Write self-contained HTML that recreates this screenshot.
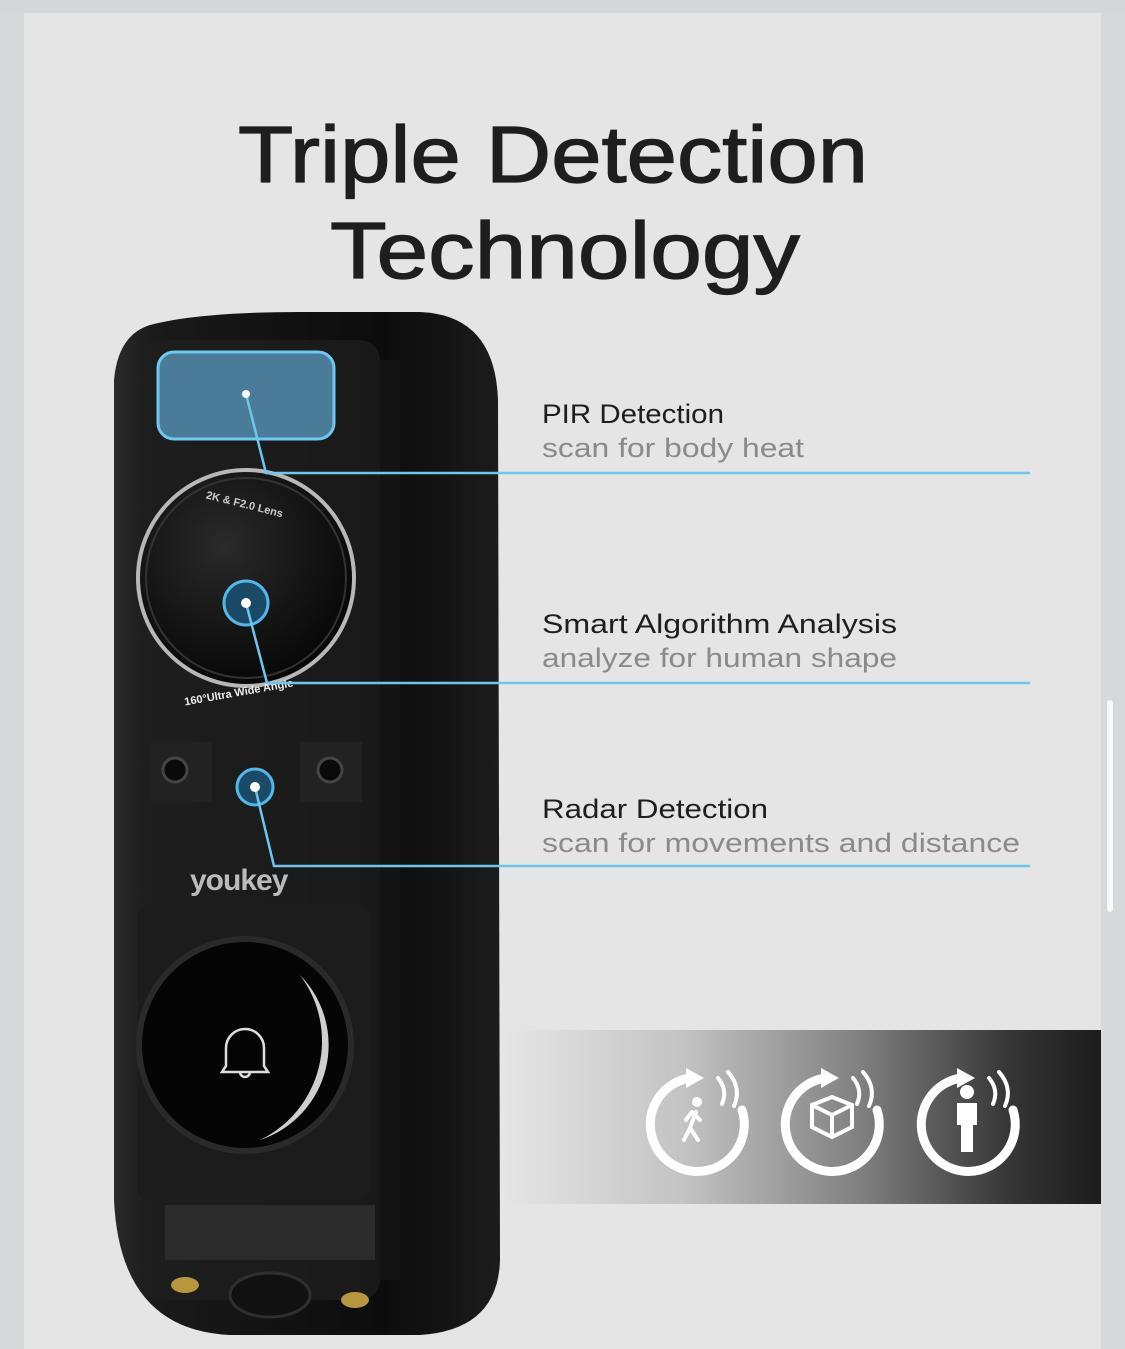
<!DOCTYPE html>
<html><head><meta charset="utf-8"><style>
html,body{margin:0;padding:0;width:1125px;height:1349px;overflow:hidden;background:#d5d9da;}
svg{display:block}
</style></head><body>
<svg width="1125" height="1349" viewBox="0 0 1125 1349" xmlns="http://www.w3.org/2000/svg">
<defs>
<linearGradient id="band" x1="0" x2="1" y1="0" y2="0">
<stop offset="0" stop-color="#e6e6e6"/><stop offset="0.3" stop-color="#c4c4c4"/><stop offset="0.6" stop-color="#808080"/><stop offset="0.85" stop-color="#353535"/><stop offset="1" stop-color="#1c1c1c"/>
</linearGradient>
<linearGradient id="body" x1="0" x2="1" y1="0" y2="0">
<stop offset="0" stop-color="#2a2a2a"/><stop offset="0.1" stop-color="#1a1a1a"/><stop offset="0.7" stop-color="#0c0c0c"/><stop offset="1" stop-color="#1c1c1c"/>
</linearGradient>
<radialGradient id="lens" cx="0.4" cy="0.35" r="0.7"><stop offset="0" stop-color="#2a2a2a"/><stop offset="1" stop-color="#050505"/></radialGradient>
</defs>
<rect x="0" y="0" width="1125" height="13" fill="#d6d7d9"/>
<rect x="24" y="13" width="1077" height="1336" fill="#e5e5e5"/>
<text x="238" y="182" textLength="630" lengthAdjust="spacingAndGlyphs" font-family="Liberation Sans, sans-serif" font-size="80" fill="#1e1e1e" stroke="#1e1e1e" stroke-width="1.2">Triple Detection</text>
<text x="330" y="278" textLength="470" lengthAdjust="spacingAndGlyphs" font-family="Liberation Sans, sans-serif" font-size="80" fill="#1e1e1e" stroke="#1e1e1e" stroke-width="1.2">Technology</text>
<!-- band -->
<rect x="500" y="1030" width="601" height="174" fill="url(#band)"/>
<g fill="none" stroke="#fff" stroke-width="9" stroke-linecap="round">
<path d="M690 1078 A47 47 0 1 0 742 1110"/><path d="M825 1078 A47 47 0 1 0 877 1110"/><path d="M961 1078 A47 47 0 1 0 1013 1110"/>
</g>
<g fill="#fff"><path d="M686 1068 l18 10 -18 10z"/><path d="M821 1068 l18 10 -18 10z"/><path d="M957 1068 l18 10 -18 10z"/></g>
<g fill="none" stroke="#fff" stroke-width="4" stroke-linecap="round">
<path d="M718 1078 q10 12 4 26"/><path d="M728 1072 q14 16 6 34"/>
<path d="M853 1078 q10 12 4 26"/><path d="M863 1072 q14 16 6 34"/>
<path d="M989 1078 q10 12 4 26"/><path d="M999 1072 q14 16 6 34"/>
</g>
<g stroke="#fff" stroke-width="4" fill="none" stroke-linecap="round"><path d="M696 1112 l-6 16 -6 12 M690 1128 l8 12 M692 1112 l8 8 M692 1112 l-6 8"/>
<path d="M812 1105 l20 -8 20 8 v22 l-20 10 -20 -10z M812 1105 l20 10 20 -10 M832 1115 v22"/></g>
<circle cx="697" cy="1102" r="5" fill="#fff"/>
<circle cx="967" cy="1092" r="7" fill="#fff"/>
<path d="M957 1103 h20 v22 h-4 v27 h-12 v-27 h-4z" fill="#fff"/>
<!-- device -->
<path d="M150 325 Q200 312 300 312 L420 312 Q495 315 498 400 L500 1260 Q498 1330 420 1335 L230 1335 Q120 1330 114 1200 L114 380 Q118 335 150 325Z" fill="url(#body)"/>
<rect x="140" y="340" width="240" height="960" rx="20" fill="#1f1f1f" opacity="0.7"/>
<rect x="380" y="360" width="20" height="920" fill="#141414"/>
<rect x="158" y="352" width="176" height="87" rx="16" fill="#4a7c99" stroke="#6ec8f0" stroke-width="3"/>
<circle cx="246" cy="578" r="108" fill="url(#lens)" stroke="#b8b8b8" stroke-width="4"/>
<circle cx="246" cy="578" r="100" fill="none" stroke="#333" stroke-width="2"/>
<text x="205" y="508" font-family="Liberation Sans, sans-serif" font-size="11" font-weight="bold" fill="#ccc" transform="rotate(14 245 505)">2K &amp; F2.0 Lens</text>
<text x="185" y="695" font-family="Liberation Sans, sans-serif" font-size="11" font-weight="bold" fill="#eee" transform="rotate(-10 245 700)">160°Ultra Wide Angle</text>
<circle cx="246" cy="603" r="22" fill="#1a4a66" stroke="#52b8ea" stroke-width="3"/>
<rect x="150" y="742" width="62" height="60" fill="#222"/><circle cx="175" cy="770" r="12" fill="#0a0a0a" stroke="#444" stroke-width="3"/>
<rect x="300" y="742" width="62" height="60" fill="#222"/><circle cx="330" cy="770" r="12" fill="#0a0a0a" stroke="#444" stroke-width="3"/>
<circle cx="255" cy="787" r="18" fill="#1a4a66" stroke="#52b8ea" stroke-width="3"/>
<text x="190" y="890" font-family="Liberation Sans, sans-serif" font-size="30" font-weight="bold" fill="#bbb" letter-spacing="-1">youkey</text>
<rect x="138" y="905" width="232" height="295" rx="10" fill="#1c1c1c"/>
<circle cx="245" cy="1045" r="106" fill="#050505" stroke="#2a2a2a" stroke-width="6"/>
<path d="M300 975 A100 100 0 0 1 260 1140 A110 110 0 0 0 300 975Z" fill="#cfcfcf"/>
<path d="M226 1066 v-18 a19 19 0 0 1 38 0 v18 l4 6 h-46z M240 1072 a5 5 0 0 0 10 0" fill="none" stroke="#ddd" stroke-width="2.5"/>
<rect x="165" y="1205" width="210" height="55" fill="#2b2b2b"/>
<ellipse cx="185" cy="1285" rx="14" ry="8" fill="#b8963e"/><ellipse cx="355" cy="1300" rx="14" ry="8" fill="#b8963e"/>
<ellipse cx="270" cy="1295" rx="40" ry="22" fill="#111" stroke="#2f2f2f" stroke-width="3"/>
<!-- connectors -->
<g stroke="#6ec6ee" stroke-width="2.5" fill="none">
<polyline points="246,394 266,473 1030,473"/>
<polyline points="246,603 267,683 1030,683"/>
<polyline points="255,787 274,866 1030,866"/>
</g>
<g fill="#fff"><circle cx="246" cy="394" r="4"/><circle cx="246" cy="603" r="5"/><circle cx="255" cy="787" r="5"/></g>
<g font-family="Liberation Sans, sans-serif" font-size="27">
<text x="542" y="423" textLength="182" lengthAdjust="spacingAndGlyphs" fill="#1e1e1e">PIR Detection</text>
<text x="542" y="457" textLength="262" lengthAdjust="spacingAndGlyphs" fill="#8a8a8a">scan for body heat</text>
<text x="542" y="633" textLength="355" lengthAdjust="spacingAndGlyphs" fill="#1e1e1e">Smart Algorithm Analysis</text>
<text x="542" y="667" textLength="355" lengthAdjust="spacingAndGlyphs" fill="#8a8a8a">analyze for human shape</text>
<text x="542" y="818" textLength="226" lengthAdjust="spacingAndGlyphs" fill="#1e1e1e">Radar Detection</text>
<text x="542" y="852" textLength="478" lengthAdjust="spacingAndGlyphs" fill="#8a8a8a">scan for movements and distance</text>
</g>
<rect x="1107" y="700" width="6" height="212" rx="3" fill="#fff" opacity="0.8"/>
</svg>
</body></html>
